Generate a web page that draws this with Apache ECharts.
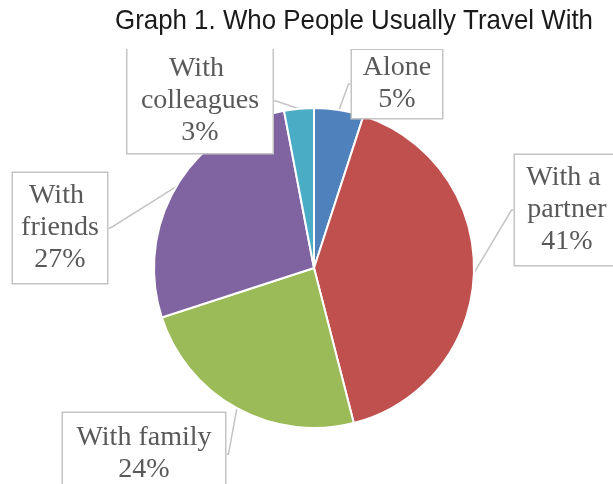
<!DOCTYPE html>
<html>
<head>
<meta charset="utf-8">
<script src="https://cdn.jsdelivr.net/npm/echarts@6/dist/echarts.min.js"></script>
<style>
  html, body { margin: 0; padding: 0; background: #fff; }
  #chart { width: 613px; height: 484px; }
</style>
</head>
<body>
<div id="chart"></div>
<script>
// Survey shares (percent) of who people usually travel with
const titleText = 'Graph 1. Who People Usually Travel With';
const categories = ['Alone', 'With a partner', 'With family', 'With friends', 'With colleagues'];
const shares = [5, 41, 24, 27, 3];
const sliceColors = ['#4F81BD', '#C0504D', '#9BBB59', '#8064A2', '#4BACC6'];

// Callout boxes: [centreX, centreY, width, height, text lines]
const calloutBoxes = [
  [397, 84, 90, 68, 2],
  [567, 210, 104, 110, 3],
  [144, 454, 162, 82, 2],
  [60, 228, 94, 110, 3],
  [200, 101, 145, 104, 3]
];
const LINE_H = 32;

// Title is set in a narrow sans face: regular sans squeezed horizontally
const TITLE_FONT = '28px "Liberation Sans", Arial, sans-serif';
const TITLE_WIDTH = 478;
const measureCtx = document.createElement('canvas').getContext('2d');
measureCtx.font = TITLE_FONT;
const titleScaleX = TITLE_WIDTH / measureCtx.measureText(titleText).width;

const chart = echarts.init(document.getElementById('chart'), null, { renderer: 'canvas' });

const seriesData = categories.map(function (name, i) {
  const box = calloutBoxes[i];
  const padY = Math.max(0, (box[3] - box[4] * LINE_H) / 2);
  return {
    name: name,
    value: shares[i],
    itemStyle: { color: sliceColors[i] },
    label: { width: box[2], padding: [padY, 0, padY, 0] }
  };
});

chart.setOption({
  backgroundColor: '#ffffff',
  animation: false,
  graphic: [
    {
      type: 'rect',
      z: 100,
      silent: true,
      shape: { x: 110, y: 0, width: 503, height: 49 },
      style: { fill: '#ffffff' }
    },
    {
      type: 'text',
      z: 101,
      silent: true,
      x: 115,
      y: 35,
      scaleX: titleScaleX,
      style: {
        text: titleText,
        font: TITLE_FONT,
        fill: '#1a1a1a',
        textAlign: 'left',
        textVerticalAlign: 'bottom'
      }
    }
  ],
  series: [{
    type: 'pie',
    center: [314, 268],
    radius: 160,
    startAngle: 90,
    clockwise: true,
    avoidLabelOverlap: false,
    itemStyle: { borderColor: '#ffffff', borderWidth: 2 },
    label: {
      show: true,
      position: 'outside',
      formatter: function (p) { return p.name + '\n' + p.value + '%'; },
      fontFamily: "'Liberation Serif', 'Times New Roman', serif",
      fontSize: 28,
      lineHeight: LINE_H,
      color: '#595959',
      align: 'center',
      overflow: 'break',
      backgroundColor: '#ffffff',
      borderColor: '#c4c4c4',
      borderWidth: 1.5
    },
    labelLine: {
      show: true,
      length: 2,
      length2: 2,
      lineStyle: { color: '#c4c4c4', width: 1.5 }
    },
    labelLayout: function (params) {
      const box = calloutBoxes[params.dataIndex];
      return { x: box[0], y: box[1], align: 'center', verticalAlign: 'middle' };
    },
    emphasis: { disabled: true },
    data: seriesData
  }]
});
</script>
</body>
</html>
